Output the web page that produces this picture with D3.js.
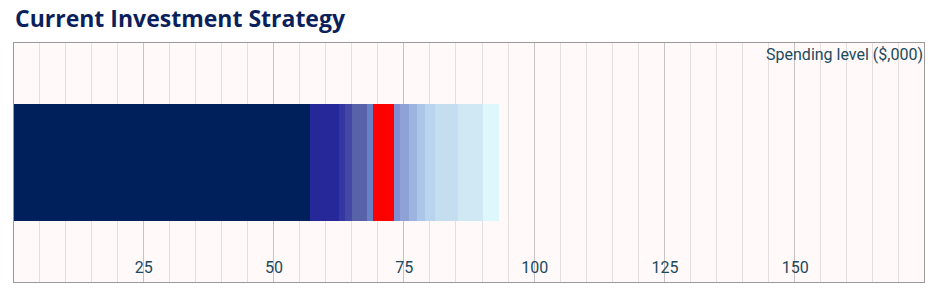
<!DOCTYPE html>
<html><head><meta charset="utf-8">
<script src="https://cdn.jsdelivr.net/npm/d3@7"></script>
<style>
html,body{margin:0;padding:0;background:#fff;}
svg{display:block;}
</style></head>
<body>
<svg id="chart" width="951" height="295"></svg>
<script>
const title = "Current Investment Strategy";
const axisTitle = "Spending level ($,000)";
const category = ["Current"];
const segmentValues = [57, 5.5, 1.2, 1.3, 3, 1, 4.2, 1, 1.8, 1.5, 1.5, 2, 4.3, 4.8, 3.1];
const segmentColors = ["#00205b", "#26289a", "#34379f", "#4447a6", "#5862a8", "#6a80c4", "#ff0000",
  "#7f8fd2", "#8fa2d8", "#9db4e0", "#acc6e8", "#b8d4ee", "#c4def0", "#d0e8f4", "#ddf8fc"];
const tickLabels = [25, 50, 75, 100, 125, 150];
const xDomain = [0, 175];

const svg = d3.select("#chart");
const L = 13, R = 925, T = 42, B = 283;
const x = d3.scaleLinear().domain(xDomain).range([L, R]);
const y = d3.scaleBand().domain(category).range([T, B]).paddingInner(0).paddingOuter(0.535);

svg.append("text").attr("x", 15).attr("y", 27)
  .attr("font-family", "'Open Sans', sans-serif").attr("font-weight", 700)
  .attr("font-size", 23).attr("fill", "#0b1f5c").text(title);

svg.append("rect").attr("x", L).attr("y", T).attr("width", R - L).attr("height", B - T)
  .attr("fill", "#fff9f9");

// minor grid
const minor = d3.range(5, 175, 5).filter(v => v % 25 !== 0);
svg.append("g").selectAll("line").data(minor).join("line")
  .attr("x1", d => x(d)).attr("x2", d => x(d)).attr("y1", T).attr("y2", B)
  .attr("stroke", "#e6dede").attr("stroke-width", 1).attr("shape-rendering", "crispEdges");
svg.append("g").selectAll("line").data(tickLabels).join("line")
  .attr("x1", d => x(d)).attr("x2", d => x(d)).attr("y1", T).attr("y2", B)
  .attr("stroke", "#c9c2c4").attr("stroke-width", 1).attr("shape-rendering", "crispEdges");

// stacked segments
let acc = 0;
const segs = segmentValues.map((v, i) => { const s = {x0: acc, x1: acc + v, c: segmentColors[i]}; acc += v; return s; });
svg.append("g").selectAll("rect").data(segs).join("rect")
  .attr("x", d => x(d.x0)).attr("width", d => x(d.x1) - x(d.x0))
  .attr("y", y("Current")).attr("height", y.bandwidth())
  .attr("fill", d => d.c).attr("shape-rendering", "crispEdges");

// axis labels
const ax = svg.append("g").attr("transform", `translate(0,${B - 10})`)
  .call(d3.axisBottom(x).tickValues(tickLabels).tickSize(0).tickFormat(d3.format("d")));
ax.select(".domain").remove();
ax.selectAll("text").attr("y", 0).attr("dy", 0)
  .attr("font-family", "Roboto, sans-serif").attr("font-size", 16).attr("fill", "#1b4a5e");

svg.append("text").attr("x", R - 2).attr("y", 60).attr("text-anchor", "end")
  .attr("font-family", "Roboto, sans-serif").attr("font-size", 16).attr("fill", "#1b4a5e")
  .text(axisTitle);

svg.append("rect").attr("x", L + 0.5).attr("y", T + 0.5).attr("width", R - L - 1).attr("height", B - T - 1)
  .attr("fill", "none").attr("stroke", "#9a9a9a").attr("stroke-width", 1);
</script>
</body></html>
